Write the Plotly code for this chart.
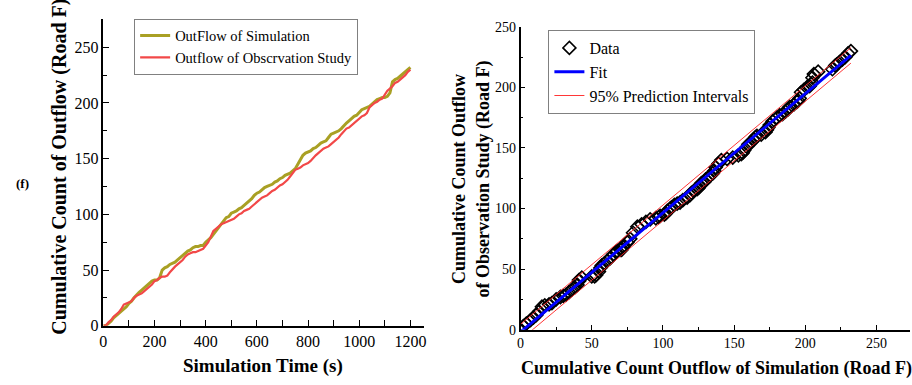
import numpy as np
import plotly.graph_objects as go

# ---- data ----
time_s = list(range(0, 1201, 10))
sim_outflow = [0, 0, 2, 4, 7, 9, 11, 13, 15, 17, 20, 22, 25, 28, 30, 32, 34, 36, 38, 40,
               41, 41, 43, 50, 52, 53, 55, 56, 57, 59, 61, 63, 65, 67, 68, 70, 71, 71, 72, 72,
               75, 77, 79, 82, 85, 88, 91, 95, 97, 98, 101, 102, 103, 105, 106, 108, 110, 112, 114, 117,
               119, 120, 122, 124, 125, 126, 127, 129, 130, 132, 133, 135, 136, 137, 139, 141, 145, 149, 153, 155,
               156, 157, 159, 160, 162, 164, 165, 166, 169, 172, 173, 174, 175, 177, 180, 182, 184, 186, 188, 189,
               192, 194, 195, 196, 197, 199, 201, 203, 204, 205, 205, 206, 209, 219, 221, 222, 224, 226, 228, 230,
               232]
obs_outflow = [0, 0, 3, 5, 8, 10, 12, 15, 19, 20, 21, 22, 25, 27, 28, 29, 31, 33, 35, 37,
               40, 41, 43, 44, 44, 45, 48, 51, 53, 55, 57, 59, 62, 64, 65, 66, 66, 67, 68, 69,
               72, 75, 80, 85, 87, 89, 91, 92, 93, 94, 95, 96, 98, 100, 101, 103, 104, 105, 107, 109,
               111, 113, 115, 116, 117, 119, 121, 122, 124, 126, 127, 129, 131, 134, 137, 140, 141, 142, 144, 145,
               146, 148, 151, 153, 155, 157, 159, 160, 161, 163, 165, 167, 169, 172, 175, 177, 178, 180, 182, 184,
               186, 188, 189, 191, 196, 198, 200, 201, 203, 204, 208, 211, 213, 215, 218, 219, 221, 223, 225, 228,
               230]

left_xticks = [0, 200, 400, 600, 800, 1000, 1200]
left_yticks = [0, 50, 100, 150, 200, 250]
right_ticks = [0, 50, 100, 150, 200, 250]

# ---- linear fit with 95% prediction intervals (from the data) ----
xs = np.array(sim_outflow, dtype=float)
ys = np.array(obs_outflow, dtype=float)
n = len(xs)
slope, intercept = np.polyfit(xs, ys, 1)
resid = ys - (slope * xs + intercept)
s_err = np.sqrt(np.sum(resid ** 2) / (n - 2))
xm = xs.mean()
sxx = np.sum((xs - xm) ** 2)
t_val = 1.98
xg = np.linspace(xs.min(), xs.max(), 100)
yg = slope * xg + intercept
half = t_val * s_err * np.sqrt(1 + 1 / n + (xg - xm) ** 2 / sxx)

SERIF = "Times New Roman, Liberation Serif, serif"
OLIVE = "#A9A024"
RED = "#F24848"

fig = go.Figure()

fig.add_trace(go.Scatter(x=time_s, y=sim_outflow, mode="lines", name="OutFlow of Simulation",
                         line=dict(color=OLIVE, width=3), xaxis="x", yaxis="y", legend="legend"))
fig.add_trace(go.Scatter(x=time_s, y=obs_outflow, mode="lines", name="Outflow of Obscrvation Study",
                         line=dict(color=RED, width=2.2), xaxis="x", yaxis="y", legend="legend"))

fig.add_trace(go.Scatter(x=sim_outflow, y=obs_outflow, mode="markers", name="Data",
                         marker=dict(symbol="diamond-open", size=10, color="black", line=dict(width=1.6)),
                         xaxis="x2", yaxis="y2", legend="legend2"))
fig.add_trace(go.Scatter(x=xg, y=yg, mode="lines", name="Fit",
                         line=dict(color="#0000FF", width=3), xaxis="x2", yaxis="y2", legend="legend2"))
fig.add_trace(go.Scatter(x=xg, y=yg + half, mode="lines", name="95% Prediction Intervals",
                         line=dict(color="#FF2020", width=0.9), xaxis="x2", yaxis="y2", legend="legend2"))
fig.add_trace(go.Scatter(x=xg, y=yg - half, mode="lines", name="95% Prediction Intervals",
                         line=dict(color="#FF2020", width=0.9), xaxis="x2", yaxis="y2",
                         legend="legend2", showlegend=False))

W, H = 912, 385


def px(x):
    return x / W


def py(y):
    return 1 - y / H


axis_common = dict(showgrid=False, zeroline=False, showline=True, linecolor="black", linewidth=1.5,
                   ticks="inside", tickcolor="black", tickwidth=1.2, mirror=False)

fig.update_layout(
    width=W, height=H, margin=dict(l=0, r=0, t=0, b=0),
    paper_bgcolor="white", plot_bgcolor="white",
    font=dict(family=SERIF, color="black"),
    xaxis=dict(domain=[px(100), px(423)], range=[0, 1254], tickvals=left_xticks, ticklen=6,
               minor=dict(dtick=100, ticks="inside", ticklen=6, tickcolor="black"),
               tickfont=dict(size=16, family=SERIF, color="black"), anchor="y", **axis_common),
    yaxis=dict(domain=[py(332.5), py(13)], range=[0, 275], tickvals=left_yticks, ticklen=6,
               minor=dict(dtick=25, ticks="inside", ticklen=4, tickcolor="black"),
               tickfont=dict(size=16, family=SERIF, color="black"), anchor="x", **axis_common),
    xaxis2=dict(domain=[px(520), 1.0], range=[0, 273.5], tickvals=right_ticks, ticklen=5,
                minor=dict(dtick=25, ticks="inside", ticklen=3, tickcolor="black"),
                tickfont=dict(size=14, family=SERIF, color="black"), anchor="y2", **axis_common),
    yaxis2=dict(domain=[py(336.7), py(20.7)], range=[0, 250], tickvals=right_ticks, ticklen=5,
                minor=dict(dtick=25, ticks="inside", ticklen=3, tickcolor="black"),
                tickfont=dict(size=14, family=SERIF, color="black"), anchor="x2", **axis_common),
    legend=dict(x=px(131), y=py(12), xanchor="left", yanchor="top",
                bordercolor="#808080", borderwidth=1, bgcolor="rgba(255,255,255,0)",
                font=dict(size=14.5, family=SERIF, color="black"), tracegroupgap=0),
    legend2=dict(x=px(548), y=py(24), xanchor="left", yanchor="top",
                 bordercolor="#808080", borderwidth=1, bgcolor="rgba(255,255,255,0)",
                 font=dict(size=16, family=SERIF, color="black"), tracegroupgap=0),
    showlegend=True,
)

annotations = [
    dict(text="<b>Cumulative Count of Outflow (Road F)</b>", x=px(55), y=py(167), textangle=-90,
         font=dict(size=20, family=SERIF)),
    dict(text="<b>Simulation Time (s)</b>", x=px(261), y=py(375), font=dict(size=19, family=SERIF)),
    dict(text="<b>(f)</b>", x=px(19), y=py(184), font=dict(size=13, family=SERIF)),
    dict(text="<b>Cumulative Count Outflow of Simulation (Road F)</b>", x=px(717), y=py(377),
         font=dict(size=18, family=SERIF)),
    dict(text="<b>Cumulative Count Outflow<br>of Observation Study (Road F)</b>", x=px(470), y=py(179),
         textangle=-90, font=dict(size=18, family=SERIF)),
]
for a in annotations:
    a.update(xref="paper", yref="paper", showarrow=False, xanchor="center", yanchor="middle")
fig.update_layout(annotations=annotations)

fig.write_html("out.html")
